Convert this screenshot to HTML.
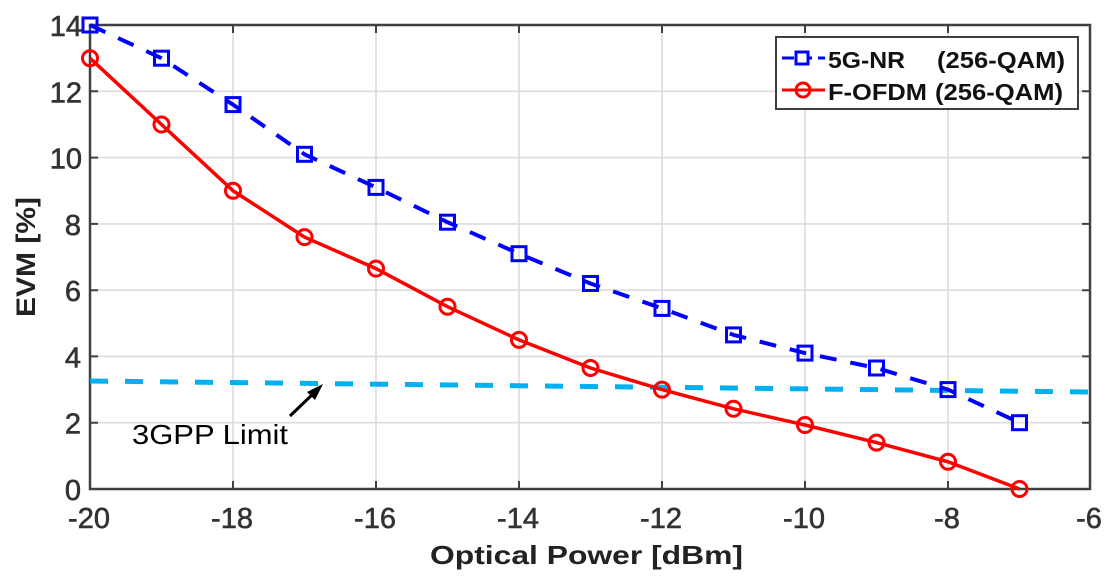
<!DOCTYPE html>
<html><head><meta charset="utf-8"><style>
html,body{margin:0;padding:0;background:#fff;}
svg{display:block;}
text{font-family:"Liberation Sans",Arial,sans-serif;}
</style></head><body>
<svg width="1108" height="585" viewBox="0 0 1108 585" xmlns="http://www.w3.org/2000/svg">
<rect width="1108" height="585" fill="#fff"/>
<!-- grid -->
<g stroke="#dcdcdc" stroke-width="1.6">
<line x1="233" y1="25" x2="233" y2="489"/>
<line x1="376" y1="25" x2="376" y2="489"/>
<line x1="519" y1="25" x2="519" y2="489"/>
<line x1="662" y1="25" x2="662" y2="489"/>
<line x1="805" y1="25" x2="805" y2="489"/>
<line x1="948" y1="25" x2="948" y2="489"/>
<line x1="90" y1="422.7" x2="1090" y2="422.7"/>
<line x1="90" y1="356.4" x2="1090" y2="356.4"/>
<line x1="90" y1="290.2" x2="1090" y2="290.2"/>
<line x1="90" y1="223.9" x2="1090" y2="223.9"/>
<line x1="90" y1="157.6" x2="1090" y2="157.6"/>
<line x1="90" y1="91.3" x2="1090" y2="91.3"/>
</g>
<!-- ticks -->
<g stroke="#404040" stroke-width="2">
<path d="M233 489v-8M376 489v-8M519 489v-8M662 489v-8M805 489v-8M948 489v-8"/>
<path d="M233 25v8M376 25v8M519 25v8M662 25v8M805 25v8M948 25v8"/>
<path d="M90 422.7h8M90 356.4h8M90 290.2h8M90 223.9h8M90 157.6h8M90 91.3h8"/>
<path d="M1090 422.7h-8M1090 356.4h-8M1090 290.2h-8M1090 223.9h-8M1090 157.6h-8M1090 91.3h-8"/>
</g>
<!-- axes box -->
<rect x="90" y="25" width="1000" height="464" fill="none" stroke="#404040" stroke-width="2.5"/>
<!-- 3GPP limit -->
<line x1="90" y1="381" x2="1090" y2="392" stroke="#00b0f0" stroke-width="5" stroke-dasharray="18 17"/>
<!-- 5G-NR -->
<polyline fill="none" stroke="#0000ff" stroke-width="4" stroke-dasharray="17 14" points="90,25 161.5,58.2 233,104.6 304.5,154.3 376,187.4 447.5,222.2 519,253.7 590.5,283.5 662,308.4 733.5,334.9 805,353.1 876.5,368 948,389.6 1019.5,422.7"/>
<g fill="none" stroke="#0000ff" stroke-width="3">
<rect x="83" y="18" width="14" height="14"/>
<rect x="154.5" y="51.2" width="14" height="14"/>
<rect x="226" y="97.6" width="14" height="14"/>
<rect x="297.5" y="147.3" width="14" height="14"/>
<rect x="369" y="180.4" width="14" height="14"/>
<rect x="440.5" y="215.2" width="14" height="14"/>
<rect x="512" y="246.7" width="14" height="14"/>
<rect x="583.5" y="276.5" width="14" height="14"/>
<rect x="655" y="301.4" width="14" height="14"/>
<rect x="726.5" y="327.9" width="14" height="14"/>
<rect x="798" y="346.1" width="14" height="14"/>
<rect x="869.5" y="361" width="14" height="14"/>
<rect x="941" y="382.6" width="14" height="14"/>
<rect x="1012.5" y="415.7" width="14" height="14"/>
</g>
<!-- F-OFDM -->
<polyline fill="none" stroke="#ff0000" stroke-width="3.5" points="90,58.2 161.5,124.5 233,190.7 304.5,237.1 376,268.6 447.5,306.7 519,339.9 590.5,368 662,389.6 733.5,408.8 805,425 876.5,442.6 948,461.8 1019.5,489"/>
<g fill="none" stroke="#ff0000" stroke-width="3">
<circle cx="90" cy="58.2" r="7.5"/>
<circle cx="161.5" cy="124.5" r="7.5"/>
<circle cx="233" cy="190.7" r="7.5"/>
<circle cx="304.5" cy="237.1" r="7.5"/>
<circle cx="376" cy="268.6" r="7.5"/>
<circle cx="447.5" cy="306.7" r="7.5"/>
<circle cx="519" cy="339.9" r="7.5"/>
<circle cx="590.5" cy="368" r="7.5"/>
<circle cx="662" cy="389.6" r="7.5"/>
<circle cx="733.5" cy="408.8" r="7.5"/>
<circle cx="805" cy="425" r="7.5"/>
<circle cx="876.5" cy="442.6" r="7.5"/>
<circle cx="948" cy="461.8" r="7.5"/>
<circle cx="1019.5" cy="489" r="7.5"/>
</g>
<!-- arrow -->
<line x1="290" y1="416" x2="316" y2="391" stroke="#000" stroke-width="3"/>
<polygon points="323,384 307,392 315,400" fill="#000"/>
<text x="132" y="444" font-size="28" fill="#000" textLength="156" lengthAdjust="spacingAndGlyphs">3GPP Limit</text>
<!-- y tick labels -->
<g font-size="29" fill="#333" stroke="#333" stroke-width="0.6" text-anchor="end">
<text x="81" y="500">0</text>
<text x="81" y="433.7">2</text>
<text x="81" y="367.4">4</text>
<text x="81" y="301.2">6</text>
<text x="81" y="234.9">8</text>
<text x="82" y="168.6">10</text>
<text x="82" y="102.3">12</text>
<text x="82" y="36">14</text>
</g>
<!-- x tick labels -->
<g font-size="29" fill="#333" stroke="#333" stroke-width="0.6" text-anchor="middle">
<text x="89" y="528">-20</text>
<text x="232" y="528">-18</text>
<text x="375" y="528">-16</text>
<text x="518" y="528">-14</text>
<text x="661" y="528">-12</text>
<text x="804" y="528">-10</text>
<text x="947" y="528">-8</text>
<text x="1089" y="528">-6</text>
</g>
<!-- axis labels -->
<text x="430" y="564" font-size="26" font-weight="bold" fill="#222" textLength="313" lengthAdjust="spacingAndGlyphs">Optical Power [dBm]</text>
<text transform="translate(35,317) rotate(-90)" font-size="27" font-weight="bold" fill="#222" textLength="120" lengthAdjust="spacingAndGlyphs">EVM [%]</text>
<!-- legend -->
<rect x="776" y="37" width="302" height="72" fill="#fff" stroke="#404040" stroke-width="2"/>
<line x1="782" y1="58" x2="825" y2="58" stroke="#0000ff" stroke-width="3" stroke-dasharray="12 6"/>
<rect x="796" y="52" width="12" height="12" fill="#fff" stroke="#0000ff" stroke-width="3"/>
<line x1="782" y1="90" x2="825" y2="90" stroke="#ff0000" stroke-width="3"/>
<circle cx="803" cy="90" r="7" fill="none" stroke="#ff0000" stroke-width="3"/>
<g font-size="23" font-weight="bold" fill="#111">
<text x="828" y="68" textLength="77" lengthAdjust="spacingAndGlyphs">5G-NR</text>
<text x="937" y="68" textLength="128" lengthAdjust="spacingAndGlyphs">(256-QAM)</text>
<text x="828" y="100" textLength="99" lengthAdjust="spacingAndGlyphs">F-OFDM</text>
<text x="935" y="100" textLength="128" lengthAdjust="spacingAndGlyphs">(256-QAM)</text>
</g>
</svg>
</body></html>
